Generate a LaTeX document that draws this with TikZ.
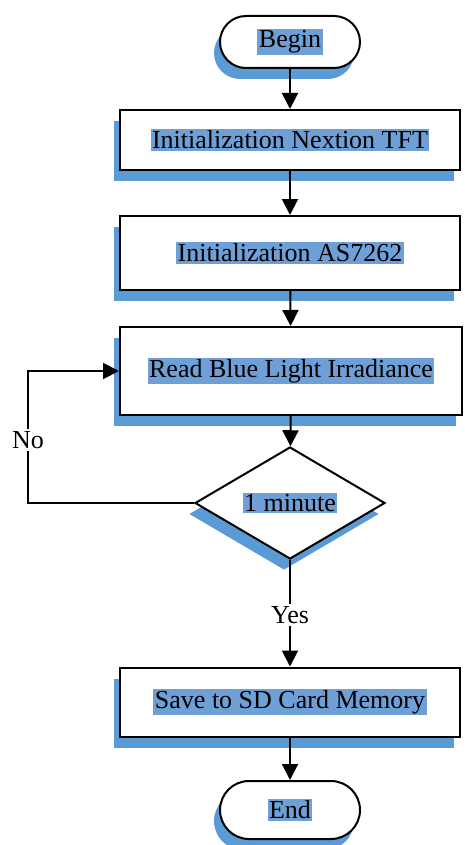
\documentclass[tikz,border=0pt]{standalone}
\usepackage{fontspec}
\setmainfont{Liberation Serif}
\usetikzlibrary{shapes.geometric,shapes.misc,arrows.meta,shadows}
\definecolor{shblue}{RGB}{91,155,213}
\definecolor{hlblue}{RGB}{110,160,215}
\newcommand{\hlt}[1]{{\setlength{\fboxsep}{1.5pt}\colorbox{hlblue}{#1}}}
\tikzset{
  base/.style={draw=black, line width=2pt, fill=white, font=\fontsize{26}{30}\selectfont,
    drop shadow={shadow xshift=-6pt, shadow yshift=-11pt, fill=shblue, opacity=1}},
  proc/.style={base, rectangle, minimum width=340pt, inner sep=0pt},
  term/.style={base, rounded rectangle, minimum width=140pt, inner sep=0pt},
  dec/.style={base, diamond, aspect=1.7, minimum width=190pt, minimum height=112pt, inner sep=0pt},
  arr/.style={line width=2pt, -{Triangle[width=16pt,length=16pt]}},
  lbl/.style={fill=white, inner sep=2pt, font=\fontsize{26}{30}\selectfont}
}
\begin{document}
\begin{tikzpicture}[x=1pt,y=-1pt]
\useasboundingbox (0,0) rectangle (465,845);
\node[term, minimum height=52pt] (begin) at (290,42) {\hlt{Begin}};
\node[proc, minimum height=60pt] (b1) at (290,140) {\hlt{Initialization Nextion TFT}};
\node[proc, minimum height=74pt] (b2) at (290,253) {\hlt{Initialization AS7262}};
\node[proc, minimum height=88pt, minimum width=342pt] (b3) at (291,371) {\hlt{Read Blue Light Irradiance}};
\node[dec] (d) at (290,503) {\hlt{1 minute}};
\node[proc, minimum height=69pt] (b4) at (290,702) {\hlt{Save to SD Card Memory}};
\node[term, minimum height=58pt] (end) at (290,810) {\hlt{End}};
\coordinate (nocorner) at (28,503);
\draw[arr] (begin) -- (b1);
\draw[arr] (b1) -- (b2);
\draw[arr] (b2) -- (b3);
\draw[arr] (b3) -- (d);
\draw[arr] (d.west) -- (nocorner) |- (b3.west);
\draw[arr] (d.south) -- (b4.north);
\draw[arr] (b4) -- (end);
\node[lbl] (no) at (28,440) {No};
\node[lbl] (yes) at (290,615) {Yes};
\end{tikzpicture}
\end{document}
